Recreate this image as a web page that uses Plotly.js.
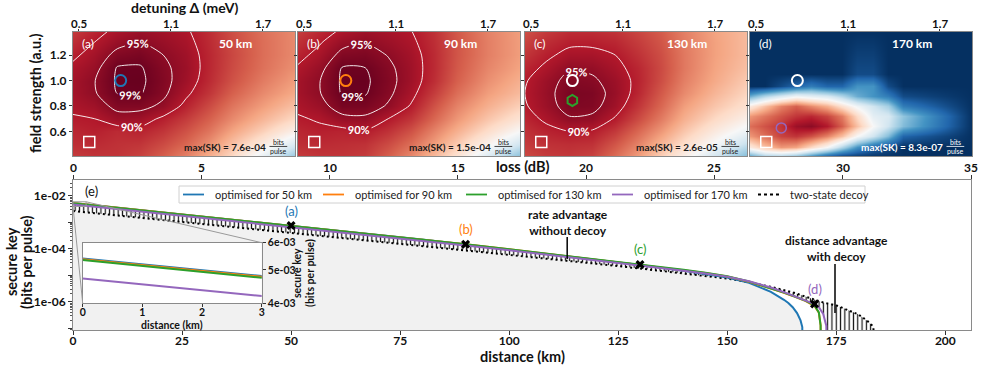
<!DOCTYPE html>
<html>
<head>
<meta charset="utf-8">
<script src="https://cdn.plot.ly/plotly-3.0.1.min.js"></script>
<style>
html,body{margin:0;padding:0;background:#fff;}
#chart{width:981px;height:368px;}
</style>
</head>
<body>
<div id="chart"></div>
<script>
// ================= DATA =================
// Top heat maps: secure key relative to the panel maximum, on a detuning x field-strength grid
const detuning = [0.46, 0.60, 0.75, 0.90, 1.05, 1.20, 1.35, 1.50, 1.70, 1.91];
const fieldStrength = [0.40, 0.50, 0.60, 0.70, 0.80, 0.90, 1.00, 1.10, 1.20, 1.30, 1.40];
const relSK50 = [
  [0.85,0.86,0.86,0.84,0.80,0.75,0.68,0.60,0.45,0.30],
  [0.87,0.875,0.865,0.86,0.83,0.79,0.73,0.65,0.55,0.42],
  [0.88,0.89,0.875,0.885,0.86,0.82,0.77,0.70,0.62,0.53],
  [0.895,0.90,0.93,0.925,0.89,0.85,0.80,0.74,0.67,0.60],
  [0.91,0.925,0.965,0.965,0.94,0.885,0.83,0.77,0.71,0.65],
  [0.92,0.945,0.991,0.993,0.96,0.91,0.86,0.80,0.74,0.69],
  [0.92,0.948,0.996,0.998,0.965,0.925,0.875,0.82,0.76,0.71],
  [0.91,0.935,0.993,0.994,0.96,0.93,0.88,0.83,0.775,0.73],
  [0.89,0.92,0.965,0.975,0.95,0.925,0.88,0.835,0.78,0.74],
  [0.87,0.90,0.935,0.952,0.935,0.915,0.875,0.83,0.78,0.74],
  [0.85,0.88,0.91,0.93,0.92,0.905,0.87,0.825,0.775,0.74]
];
const relSK90 = [
  [0.85,0.86,0.86,0.85,0.80,0.74,0.66,0.57,0.42,0.28],
  [0.87,0.875,0.87,0.865,0.83,0.78,0.71,0.63,0.52,0.40],
  [0.88,0.89,0.885,0.895,0.865,0.82,0.75,0.68,0.59,0.50],
  [0.895,0.905,0.935,0.94,0.90,0.86,0.79,0.72,0.64,0.57],
  [0.91,0.93,0.978,0.975,0.945,0.895,0.82,0.75,0.68,0.62],
  [0.92,0.947,0.994,0.993,0.96,0.915,0.85,0.78,0.71,0.66],
  [0.92,0.948,0.996,0.997,0.965,0.925,0.87,0.80,0.73,0.68],
  [0.905,0.935,0.992,0.99,0.96,0.925,0.875,0.81,0.745,0.70],
  [0.885,0.915,0.965,0.97,0.948,0.92,0.875,0.815,0.755,0.71],
  [0.865,0.895,0.935,0.948,0.93,0.91,0.87,0.815,0.755,0.71],
  [0.845,0.875,0.905,0.925,0.915,0.90,0.865,0.81,0.75,0.71]
];
const relSK130 = [
  [0.83,0.85,0.855,0.84,0.78,0.71,0.62,0.53,0.40,0.27],
  [0.85,0.865,0.87,0.865,0.815,0.75,0.67,0.59,0.49,0.38],
  [0.865,0.885,0.90,0.895,0.855,0.79,0.72,0.64,0.55,0.47],
  [0.88,0.91,0.945,0.94,0.895,0.83,0.76,0.68,0.60,0.53],
  [0.895,0.93,0.97,0.965,0.925,0.86,0.79,0.71,0.64,0.58],
  [0.90,0.935,0.975,0.97,0.935,0.88,0.81,0.74,0.67,0.61],
  [0.895,0.93,0.965,0.958,0.93,0.885,0.825,0.755,0.69,0.63],
  [0.88,0.91,0.945,0.94,0.915,0.88,0.83,0.765,0.70,0.65],
  [0.86,0.89,0.915,0.915,0.90,0.865,0.825,0.765,0.705,0.66],
  [0.84,0.87,0.89,0.89,0.88,0.85,0.815,0.76,0.705,0.66],
  [0.82,0.85,0.87,0.87,0.86,0.835,0.805,0.755,0.70,0.66]
];
const detuning170 = [0.46,0.56,0.66,0.76,0.86,0.96,1.06,1.16,1.26,1.36,1.46,1.91];
const fieldStrength170 = [0.40,0.48,0.56,0.64,0.72,0.80,0.88,0.96,1.05,1.40];
const relSK170 = [
  [0.20,0.30,0.30,0.25,0.15,0.05,0,0,0,0,0,0],
  [0.55,0.65,0.72,0.70,0.60,0.50,0.35,0.20,0.10,0.05,0,0],
  [0.72,0.78,0.84,0.86,0.82,0.75,0.65,0.50,0.40,0.28,0.10,0],
  [0.78,0.82,0.86,0.93,0.95,0.90,0.80,0.65,0.50,0.40,0.28,0],
  [0.72,0.77,0.82,0.86,0.88,0.84,0.76,0.60,0.45,0.42,0.30,0],
  [0.55,0.65,0.75,0.80,0.74,0.68,0.58,0.48,0.40,0.33,0.15,0],
  [0.25,0.35,0.42,0.48,0.45,0.42,0.35,0.25,0.20,0.15,0.05,0],
  [0,0,0.05,0.10,0.15,0.10,0.10,0.20,0.20,0.05,0,0],
  [0,0,0,0,0,0,0,0.05,0.05,0,0,0],
  [0,0,0,0,0,0,0,0,0,0,0,0]
];
const detuningTicks = [0.5, 1.1, 1.7];
const fieldTicks = [0.6, 0.8, 1.0, 1.2];
const panelLabels = ['(a)', '(b)', '(c)', '(d)'];
const panelDistances = ['50 km', '90 km', '130 km', '170 km'];
const panelMaxSK = ['7.6e-04', '1.5e-04', '2.6e-05', '8.3e-07'];
const optDetuning = [0.772, 0.773, 0.770, 0.665];
const optField = [1.00, 1.00, 0.843, 0.627];
const refDetuning = [0.770];
const refField = [1.00];
const lowDetuning = [0.567];
const lowField = [0.517];

// Bottom: secure key (bits per pulse) vs distance (km)
const dist50 = [0,10,20,30,40,50,60,70,80,90,100,110,120,130,140,145,150,155,158,160,163,164,165,166,166.8,167.2,167.3];
const sk50 = [5.40e-3,3.65e-3,2.47e-3,1.67e-3,1.13e-3,7.55e-4,5.07e-4,3.39e-4,2.25e-4,1.47e-4,9.55e-5,6.17e-5,3.94e-5,2.48e-5,1.50e-5,1.14e-5,8.3e-6,5.25e-6,3.39e-6,2.4e-6,1.2e-6,9.1e-7,6.3e-7,3.8e-7,2.0e-7,1.12e-7,1e-9];
const dist90 = [0,10,20,30,40,50,60,70,80,90,100,110,120,130,140,145,150,155,158,160,163,165,168,170,171,171.4,171.5];
const sk90 = [5.37e-3,3.63e-3,2.45e-3,1.66e-3,1.12e-3,7.52e-4,5.06e-4,3.39e-4,2.26e-4,1.50e-4,9.7e-5,6.25e-5,4.02e-5,2.56e-5,1.58e-5,1.23e-5,9.1e-6,5.8e-6,4.1e-6,3.2e-6,2.2e-6,1.68e-6,1.08e-6,7.0e-7,3.9e-7,1.3e-7,1e-9];
const dist130 = [0,10,20,30,40,50,60,70,80,90,100,110,120,130,140,145,150,155,158,160,163,165,168,170,171,171.4,171.5];
const sk130 = [5.34e-3,3.61e-3,2.44e-3,1.65e-3,1.11e-3,7.48e-4,5.04e-4,3.37e-4,2.25e-4,1.49e-4,9.7e-5,6.3e-5,4.07e-5,2.6e-5,1.62e-5,1.26e-5,9.3e-6,5.9e-6,4.2e-6,3.24e-6,2.24e-6,1.70e-6,1.10e-6,7.4e-7,4.0e-7,1.3e-7,1e-9];
const dist170 = [0,10,20,30,40,50,60,70,80,90,100,110,120,130,140,145,150,155,158,160,163,165,168,170,171,172,172.7,172.9];
const sk170 = [4.72e-3,3.2e-3,2.17e-3,1.47e-3,9.93e-4,6.7e-4,4.52e-4,3.03e-4,2.03e-4,1.35e-4,8.87e-5,5.78e-5,3.76e-5,2.41e-5,1.51e-5,1.19e-5,9.0e-6,6.0e-6,4.4e-6,3.5e-6,2.34e-6,1.78e-6,1.12e-6,8.3e-7,6.3e-7,3.5e-7,1.26e-7,1e-9];
const distDecoy = [0,10,20,30,40,50,60,70,80,90,100,110,120,130,140,150,155,160,165,168,170,172,175,178,180,182,183.5,183.9];
const skDecoy = [2.70e-3,1.85e-3,1.26e-3,8.65e-4,5.92e-4,4.06e-4,2.79e-4,1.91e-4,1.31e-4,8.9e-5,6.07e-5,4.1e-5,2.75e-5,1.82e-5,1.19e-5,7.6e-6,5.5e-6,3.7e-6,2.3e-6,1.6e-6,1.2e-6,9.5e-7,7.4e-7,4.8e-7,3.4e-7,2.0e-7,1.17e-7,1e-9];
const markerDist = [50, 90, 130, 170];
const markerSK = [7.6e-4, 1.5e-4, 2.6e-5, 8.3e-7];
const markerLabels = ['(a)', '(b)', '(c)', '(d)'];
const seriesNames = ['optimised for 50 km', 'optimised for 90 km', 'optimised for 130 km', 'optimised for 170 km', 'two-state decoy'];
const distanceTicks = [0, 25, 50, 75, 100, 125, 150, 175, 200];
const lossTicks = [0, 5, 10, 15, 20, 25, 30, 35];
const skTicks = [1e-7, 1e-6, 1e-5, 1e-4, 1e-3, 1e-2];
const skTickText = ['', '1e-06', '', '1e-04', '', '1e-02'];
const insetTicks = [4e-3, 5e-3, 6e-3];
const insetTickText = ['4e-03', '5e-03', '6e-03'];

// ================= STYLE / LAYOUT =================
const W = 981, H = 368;
const px = v => v / W, py = v => 1 - v / H;
const FONT = 'Lato, "DejaVu Sans", sans-serif';
const C = ['#1f77b4', '#ff7f0e', '#2ca02c', '#9467bd'];
const RdBu_r = [[0,'#053061'],[0.1,'#2166ac'],[0.2,'#4393c3'],[0.3,'#92c5de'],[0.4,'#d1e5f0'],[0.5,'#f7f7f7'],[0.6,'#fddbc7'],[0.7,'#f4a582'],[0.8,'#d6604d'],[0.9,'#b2182b'],[1,'#67001f']];
const FLOOR = 1e-9;

const panelPx = [[73,295],[298,520],[525,747],[750,972]];
const panelY = [py(156), py(32)];
const detRange = [0.461, 1.909];
const fieldRange = [0.406, 1.382];

const mainX = [px(73), px(971)];
const mainY = [py(330), py(180)];
const distRange = [0, 205.88];
const skRange = [-7.06, -1.4];
const insetX = [px(82.7), px(261.7)];
const insetY = [py(303.3), py(242.7)];

const traces = [];
const layout = {
  width: W, height: H,
  margin: {l:0, r:0, t:0, b:0},
  paper_bgcolor: '#ffffff', plot_bgcolor: '#ffffff',
  font: {family: FONT, size: 12, color: '#111', weight: 'bold'},
  showlegend: false,
  annotations: [], shapes: []
};
const tickFont = {size: 12, family: FONT, color: '#111', weight: 'bold'};
const topTickFont = {size: 11.5, family: FONT, color: '#111', weight: 'bold'};

const maps = [
  {x: detuning, y: fieldStrength, z: relSK50},
  {x: detuning, y: fieldStrength, z: relSK90},
  {x: detuning, y: fieldStrength, z: relSK130},
  {x: detuning170, y: fieldStrength170, z: relSK170}
];

for (let i = 0; i < 4; i++) {
  const n = i + 1;
  const xa = n === 1 ? 'x' : 'x' + n, ya = n === 1 ? 'y' : 'y' + n;
  const xk = n === 1 ? 'xaxis' : 'xaxis' + n, yk = n === 1 ? 'yaxis' : 'yaxis' + n;
  layout[xk] = {
    domain: [px(panelPx[i][0]), px(panelPx[i][1])], range: detRange, anchor: ya, side: 'top',
    tickvals: detuningTicks, showticklabels: false, ticks: 'outside', ticklen: 2.5, tickcolor: '#333',
    showline: true, mirror: true, linecolor: '#8a8a8a', linewidth: 1, showgrid: false, zeroline: false
  };
  layout[yk] = {
    domain: panelY, range: fieldRange, anchor: xa,
    tickvals: fieldTicks, ticktext: fieldTicks.map(v => v.toFixed(1)), showticklabels: n === 1,
    ticks: 'outside', ticklen: 3, tickcolor: '#333',
    showline: true, mirror: true, linecolor: '#8a8a8a', linewidth: 1, showgrid: false, zeroline: false,
    tickfont: tickFont
  };
  detuningTicks.forEach(v => {
    layout.annotations.push({xref: xa, yref: 'paper', x: v, y: py(24), xanchor: 'center', yanchor: 'middle',
      showarrow: false, text: v.toFixed(1), font: topTickFont});
  });
  const m = maps[i];
  traces.push({type: 'heatmap', x: m.x, y: m.y, z: m.z, xaxis: xa, yaxis: ya, colorscale: RdBu_r,
    zmin: 0, zmax: 1, zsmooth: 'best', showscale: false, hoverinfo: 'skip', showlegend: false});
  if (i < 3) {
    [[0.9, 0.951, 0.05], [0.99, 0.995, 0.01]].forEach(lv => {
      traces.push({type: 'contour', x: m.x, y: m.y, z: m.z, xaxis: xa, yaxis: ya, showscale: false,
        hoverinfo: 'skip', showlegend: false,
        contours: {coloring: 'none', start: lv[0], end: lv[1], size: lv[2], showlabels: true,
          labelformat: '.0%', labelfont: {color: '#ffffff', size: 11, family: FONT, weight: 'bold'}},
        line: {color: 'rgba(255,255,255,0.9)', width: 1, smoothing: 0.8}});
    });
  }
  if (i >= 2) {
    traces.push({type: 'scatter', mode: 'markers', x: refDetuning, y: refField, xaxis: xa, yaxis: ya,
      marker: {symbol: 'circle-open', size: 11, color: '#ffffff', line: {width: 2, color: '#ffffff'}},
      hoverinfo: 'skip', showlegend: false});
  }
  traces.push({type: 'scatter', mode: 'markers', x: [optDetuning[i]], y: [optField[i]], xaxis: xa, yaxis: ya,
    marker: {symbol: i === 2 ? 'hexagon-open' : 'circle-open', size: i === 3 ? 10 : 11, color: C[i],
      line: {width: i === 3 ? 1.5 : 2, color: C[i]}},
    hoverinfo: 'skip', showlegend: false});
  traces.push({type: 'scatter', mode: 'markers', x: lowDetuning, y: lowField, xaxis: xa, yaxis: ya,
    marker: {symbol: 'square-open', size: 11, color: '#ffffff', line: {width: 1.5, color: '#ffffff'}},
    hoverinfo: 'skip', showlegend: false});

  const dx = xa + ' domain', dy = ya + ' domain';
  const txtCol = i === 3 ? '#ffffff' : '#1a1a1a';
  layout.annotations.push(
    {xref: dx, yref: dy, x: 0.03, y: 0.905, xanchor: 'left', yanchor: 'middle', showarrow: false,
      text: panelLabels[i], font: {color: '#ffffff', size: 12, family: FONT, weight: 'normal'}},
    {xref: dx, yref: dy, x: 0.73, y: 0.905, xanchor: 'center', yanchor: 'middle', showarrow: false,
      text: panelDistances[i], font: {color: '#ffffff', size: 12, family: FONT, weight: 'bold'}},
    {xref: dx, yref: dy, x: 0.878, y: 0.075, xanchor: 'right', yanchor: 'middle', showarrow: false,
      text: 'max(SK) = ' + panelMaxSK[i], font: {color: txtCol, size: 10, family: FONT, weight: 'bold'}},
    {xref: dx, yref: dy, x: 0.925, y: 0.112, xanchor: 'center', yanchor: 'middle', showarrow: false,
      text: 'bits', font: {color: txtCol, size: 7, family: FONT, weight: 'normal'}},
    {xref: dx, yref: dy, x: 0.925, y: 0.04, xanchor: 'center', yanchor: 'middle', showarrow: false,
      text: 'pulse', font: {color: txtCol, size: 7, family: FONT, weight: 'normal'}}
  );
  layout.shapes.push({type: 'line', xref: dx, yref: dy, x0: 0.885, x1: 0.965, y0: 0.077, y1: 0.077,
    line: {color: txtCol, width: 0.8}});
}

// ---- main axes ----
layout.xaxis5 = {domain: mainX, range: distRange, anchor: 'y5', tickvals: distanceTicks, ticks: 'outside',
  ticklen: 4, tickcolor: '#333', ticklabelstandoff: -4, showline: true, mirror: true, linecolor: '#8a8a8a',
  showgrid: false, zeroline: false, tickfont: tickFont};
layout.yaxis5 = {domain: mainY, type: 'log', range: skRange, anchor: 'x5', tickmode: 'array', tickvals: skTicks,
  ticktext: skTickText, ticks: 'outside', ticklen: 4, tickcolor: '#333', showline: true, mirror: true,
  linecolor: '#8a8a8a', showgrid: false, zeroline: false, tickfont: tickFont,
  minor: {ticks: 'outside', ticklen: 2, tickcolor: '#555', dtick: 'D1', showgrid: false}};
layout.xaxis6 = {overlaying: 'x5', side: 'top', range: [0, 35], anchor: 'y5', tickvals: lossTicks, ticks: 'outside',
  ticklen: 4, tickcolor: '#333', showticklabels: false, showgrid: false, zeroline: false, showline: false};
lossTicks.forEach(v => {
  layout.annotations.push({xref: 'x6', yref: 'paper', x: v, y: py(167.5), xanchor: 'center', yanchor: 'middle',
    showarrow: false, text: String(v), font: tickFont});
});
layout.xaxis7 = {domain: insetX, range: [0, 3], anchor: 'y7', tickvals: [0, 1, 2, 3], ticks: 'outside', ticklen: 3,
  tickcolor: '#333', ticklabelstandoff: -4, showline: true, mirror: true, linecolor: '#8a8a8a', showgrid: false,
  zeroline: false, tickfont: {size: 10.5, family: FONT, weight: 'bold'}};
layout.yaxis7 = {domain: insetY, type: 'log', range: [Math.log10(4e-3), Math.log10(6e-3)], anchor: 'x7', side: 'right',
  tickmode: 'array', tickvals: insetTicks, ticktext: insetTickText, ticks: 'outside', ticklen: 3, tickcolor: '#333',
  showline: true, mirror: true, linecolor: '#8a8a8a', showgrid: false, zeroline: false,
  tickfont: {size: 10.5, family: FONT, weight: 'bold'}};

// ---- derived regions for fills ----
const pick = (d, v, f) => d.map((x, k) => [x, v[k]]).filter(p => f(p[0]));
const lower = pick(distDecoy, skDecoy, x => x <= 155).concat(pick(dist50, sk50, x => x >= 158));
const upper = pick(dist50, sk50, x => x <= 155).concat(pick(dist170, sk170, x => x >= 158));

traces.push({type: 'scatter', mode: 'lines', xaxis: 'x5', yaxis: 'y5',
  x: lower.map(p => p[0]).concat([0]), y: lower.map(p => p[1]).concat([FLOOR]),
  fill: 'toself', fillcolor: '#f1f1f1', line: {width: 0}, hoverinfo: 'skip', showlegend: false});
traces.push({type: 'scatter', mode: 'lines', xaxis: 'x5', yaxis: 'y5',
  x: upper.map(p => p[0]), y: upper.map(p => p[1]), line: {width: 0, color: 'rgba(0,0,0,0)'},
  hoverinfo: 'skip', showlegend: false});
traces.push({type: 'scatter', mode: 'lines', xaxis: 'x5', yaxis: 'y5', x: distDecoy, y: skDecoy,
  fill: 'tonexty', fillcolor: 'rgba(255,255,255,0)',
  fillpattern: {shape: '|', size: 4.3, solidity: 0.28, fgcolor: '#111111', bgcolor: 'rgba(255,255,255,0)'},
  line: {width: 0, color: 'rgba(0,0,0,0)'}, hoverinfo: 'skip', showlegend: false});
// carrier for the loss (dB) axis (no visible marks)
traces.push({type: 'scatter', mode: 'markers', xaxis: 'x6', yaxis: 'y5', x: [lossTicks[0]], y: [FLOOR],
  marker: {size: 1, opacity: 0}, hoverinfo: 'skip', showlegend: false});

const xP = d => mainX[0] + (d - distRange[0]) / (distRange[1] - distRange[0]) * (mainX[1] - mainX[0]);
const yP = v => mainY[0] + (Math.log10(v) - skRange[0]) / (skRange[1] - skRange[0]) * (mainY[1] - mainY[0]);
layout.shapes.push(
  {type: 'rect', xref: 'x5', yref: 'y5', x0: 0, x1: 3, y0: 4e-3, y1: 6e-3, line: {color: '#9a9a9a', width: 1}},
  {type: 'line', xref: 'paper', yref: 'paper', x0: xP(3), y0: yP(6e-3), x1: insetX[1], y1: insetY[1], line: {color: '#9a9a9a', width: 1}},
  {type: 'line', xref: 'paper', yref: 'paper', x0: xP(0), y0: yP(4e-3), x1: insetX[0], y1: insetY[0], line: {color: '#9a9a9a', width: 1}}
);

const series = [[dist50, sk50], [dist90, sk90], [dist130, sk130], [dist170, sk170]];
traces.push({type: 'scatter', mode: 'lines', xaxis: 'x5', yaxis: 'y5', x: distDecoy, y: skDecoy,
  name: seriesNames[4], line: {color: '#000', width: 2, dash: '2px,3px'}, hoverinfo: 'skip'});
series.forEach((s, k) => {
  traces.push({type: 'scatter', mode: 'lines', xaxis: 'x5', yaxis: 'y5', x: s[0], y: s[1], name: seriesNames[k],
    line: {color: C[k], width: 2}, hoverinfo: 'skip'});
});
series.forEach((s, k) => {
  traces.push({type: 'scatter', mode: 'lines', xaxis: 'x7', yaxis: 'y7', x: s[0], y: s[1], showlegend: false,
    line: {color: C[k], width: 2}, hoverinfo: 'skip'});
});
traces.push({type: 'scatter', mode: 'markers', xaxis: 'x5', yaxis: 'y5', x: markerDist, y: markerSK, showlegend: false,
  marker: {symbol: 'x', size: 8, color: '#000'}, hoverinfo: 'skip'});
markerDist.forEach((d, k) => {
  layout.annotations.push({xref: 'x5', yref: 'y5', x: d, y: Math.log10(markerSK[k]), yshift: 15, showarrow: false,
    text: markerLabels[k], font: {color: C[k], size: 13, family: FONT, weight: 'normal'}});
});

// ---- legend (drawn as a framed key) ----
const legendBox = [179, 865, 186, 203];
const legendLineX = [183, 323, 466, 612, 758];
const legendColors = C.concat(['#000000']);
layout.shapes.push({type: 'rect', xref: 'paper', yref: 'paper', x0: px(legendBox[0]), x1: px(legendBox[1]),
  y0: py(legendBox[3]), y1: py(legendBox[2]), line: {color: '#d0d0d0', width: 1}, fillcolor: 'rgba(255,255,255,0.9)'});
seriesNames.forEach((name, k) => {
  const x0 = legendLineX[k];
  layout.shapes.push({type: 'line', xref: 'paper', yref: 'paper', x0: px(x0), x1: px(x0 + 21), y0: py(194.5), y1: py(194.5),
    line: {color: legendColors[k], width: k === 4 ? 2 : 1.8, dash: k === 4 ? 'dot' : 'solid'}});
  layout.annotations.push({xref: 'paper', yref: 'paper', x: px(x0 + 30), y: py(194.5), xanchor: 'left', yanchor: 'middle',
    showarrow: false, text: name, font: {family: FONT, size: 11, color: '#222', weight: 'normal'}});
});

const T = (x, y, text, size, opts = {}) => Object.assign({xref: 'paper', yref: 'paper', x: px(x), y: py(y),
  text: text, showarrow: false, xanchor: 'center', yanchor: 'middle',
  font: {family: FONT, size: size, color: '#111', weight: 'bold'}}, opts);
layout.annotations.push(
  T(184, 8, 'detuning Δ (meV)', 14),
  T(35, 93, 'field strength (a.u.)', 14.5, {textangle: -90}),
  T(522, 166, 'loss (dB)', 14.5),
  T(522, 356, 'distance (km)', 14.5),
  T(11, 262, 'secure key', 14.5, {textangle: -90}),
  T(26, 262, '(bits per pulse)', 14.5, {textangle: -90}),
  T(172, 325, 'distance (km)', 10.5),
  T(297, 273, 'secure key', 10.5, {textangle: -90}),
  T(310, 273, '(bits per pulse)', 10.5, {textangle: -90}),
  T(91, 191, '(e)', 13, {font: {family: FONT, size: 13, color: '#111', weight: 'normal'}}),
  T(568, 222, 'rate advantage<br>without decoy', 12),
  T(836, 248.5, 'distance advantage<br>with decoy', 12)
);
layout.shapes.push(
  {type: 'line', xref: 'x5', yref: 'paper', x0: 113.3, x1: 113.3, y0: py(237), y1: py(259), line: {color: '#000', width: 1.5}},
  {type: 'line', xref: 'x5', yref: 'paper', x0: 174.7, x1: 174.7, y0: py(264), y1: py(313), line: {color: '#000', width: 1.5}}
);

Plotly.newPlot('chart', traces, layout, {displayModeBar: false, staticPlot: true});
</script>
</body>
</html>
